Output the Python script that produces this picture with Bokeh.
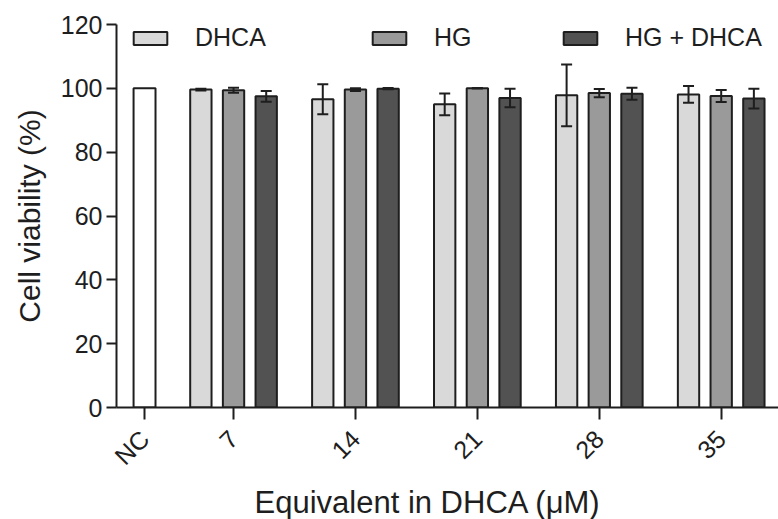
import math
from bokeh.plotting import figure
from bokeh.models import (ColumnDataSource, Whisker, FixedTicker, Legend, LegendItem,
                          Range1d, TeeHead, Title)
from bokeh.embed import file_html
from bokeh.resources import INLINE

# ---- data ----
doses = ["7", "14", "21", "28", "35"]
nc_value = 100.0
dhca = [99.6, 96.6, 95.0, 97.8, 98.1]
dhca_err = [0.3, 4.7, 3.4, 9.7, 2.6]
hg = [99.4, 99.6, 100.0, 98.5, 97.6]
hg_err = [0.8, 0.4, 0.0, 1.3, 1.9]
hg_dhca = [97.5, 99.9, 97.0, 98.3, 96.8]
hg_dhca_err = [1.7, 0.2, 2.9, 1.9, 3.1]
series_names = ["DHCA", "HG", "HG + DHCA"]
y_ticks = [0, 20, 40, 60, 80, 100, 120]
x_title = "Equivalent in DHCA (\u03bcM)"
y_title = "Cell viability (%)"

# ---- layout constants (x in hundredths of a group step) ----
NC_POS = 0
FIRST = 73
STEP = 100
OFF = 26.8
BW = 17.5
group_pos = [FIRST + i * STEP for i in range(len(doses))]

FONT = "Liberation Sans"
INK = "#1e1e1e"
colors = ["#d9d9d9", "#9a9a9a", "#525252"]

p = figure(width=778, height=519, output_backend="svg", toolbar_location=None,
           x_range=Range1d(-23, 520), y_range=Range1d(0, 120),
           min_border_left=116, min_border_right=0, min_border_top=24,
           min_border_bottom=0, background_fill_color="white",
           border_fill_color="white")

p.vbar(x=[NC_POS], top=[nc_value], width=18, bottom=0, fill_color="white",
       line_color=INK, line_width=2)

renderers = []
for k, (vals, errs) in enumerate([(dhca, dhca_err), (hg, hg_err), (hg_dhca, hg_dhca_err)]):
    xs = [g + (k - 1) * OFF for g in group_pos]
    src = ColumnDataSource(dict(x=xs, top=vals,
                                upper=[v + e for v, e in zip(vals, errs)],
                                lower=[v - e for v, e in zip(vals, errs)]))
    r = p.vbar(x="x", top="top", width=BW, bottom=0, source=src,
               fill_color=colors[k], line_color=INK, line_width=2)
    renderers.append(r)
    w = Whisker(base="x", upper="upper", lower="lower", source=src,
                line_color=INK, line_width=2, level="overlay",
                upper_head=TeeHead(size=11, line_color=INK, line_width=2),
                lower_head=TeeHead(size=11, line_color=INK, line_width=2))
    p.add_layout(w)

# legends (three separate, at their own positions)
leg_x = [13, 252, 443]
for k in range(3):
    lg = Legend(items=[LegendItem(label=series_names[k], renderers=[renderers[k]])],
                location=(leg_x[k], 355), orientation="horizontal",
                glyph_width=42, glyph_height=16, label_standoff=24,
                label_text_font=FONT, label_text_font_size="25px",
                label_text_color=INK, padding=0, margin=0, spacing=0,
                border_line_alpha=0, background_fill_alpha=0)
    p.add_layout(lg, "center")

# axes
p.xgrid.visible = False
p.ygrid.visible = False
p.outline_line_color = None

p.yaxis.ticker = FixedTicker(ticks=y_ticks)
p.xaxis.ticker = FixedTicker(ticks=[NC_POS] + group_pos)
p.xaxis.major_label_overrides = {NC_POS: "NC", **{g: d for g, d in zip(group_pos, doses)}}
p.xaxis.major_label_orientation = math.pi / 4

for ax in (p.xaxis[0], p.yaxis[0]):
    ax.axis_line_width = 2
    ax.axis_line_color = INK
    ax.major_tick_line_width = 2
    ax.major_tick_line_color = INK
    ax.major_tick_in = 0
    ax.minor_tick_line_color = None
    ax.major_label_text_font = FONT
    ax.major_label_text_font_size = "25px"
    ax.major_label_text_color = INK
    ax.axis_label_text_font = FONT
    ax.axis_label_text_font_size = "30px"
    ax.axis_label_text_font_style = "normal"
    ax.axis_label_text_color = INK

p.yaxis.major_tick_out = 10
p.yaxis.major_label_standoff = 4
p.yaxis.axis_label = y_title
p.yaxis.axis_label_standoff = 12

p.xaxis.major_tick_out = 12
p.xaxis.major_label_standoff = 15

# x-axis title as a left-aligned title below, shifted to match the reference
xt = Title(text=x_title, align="left", offset=138, text_font=FONT,
           text_font_size="31px", text_font_style="normal", text_color=INK,
           standoff=0)
p.add_layout(xt, "below")

open("out.html", "w").write(file_html(p, INLINE))
